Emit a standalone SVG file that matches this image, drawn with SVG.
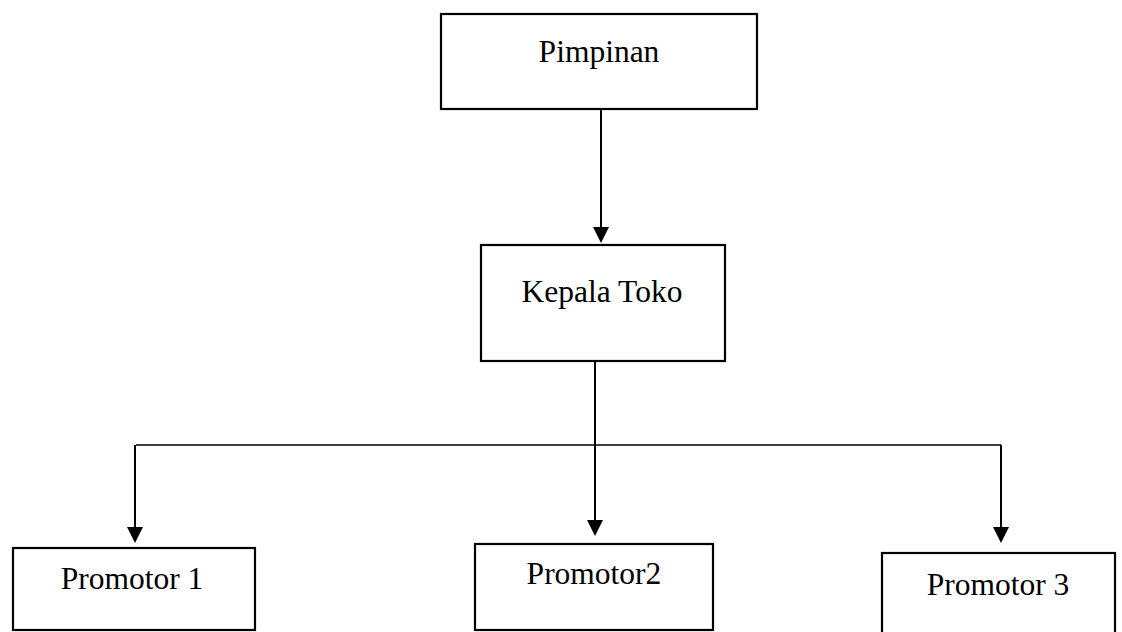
<svg xmlns="http://www.w3.org/2000/svg" width="1122" height="632" viewBox="0 0 1122 632">
<style>
.box{fill:#fff;stroke:#000;stroke-width:2.2}
.lbl{font-family:"Liberation Serif","Times New Roman",serif;font-size:31.5px;fill:#000;text-anchor:middle}
.ln{stroke:#000;stroke-width:2;fill:none}
.thin{stroke:#000;stroke-width:1.5;fill:none}
.ah{fill:#000}
</style>
<rect width="1122" height="632" fill="#fff"/>
<g id="connectors">
<line class="ln" x1="601" y1="109" x2="601" y2="230"/>
<polygon class="ah" points="593,227 609,227 601,243"/>
<line class="ln" x1="595" y1="361" x2="595" y2="522"/>
<polygon class="ah" points="587,520 603,520 595,536"/>
<line class="thin" x1="136" y1="445" x2="1001" y2="445"/>
<line class="ln" x1="135" y1="445" x2="135" y2="530"/>
<polygon class="ah" points="127,527 143,527 135,543"/>
<line class="ln" x1="1001" y1="445" x2="1001" y2="530"/>
<polygon class="ah" points="993,527 1009,527 1001,543"/>
</g>
<g id="pimpinan">
<rect class="box" x="441" y="14" width="316" height="95"/>
<text class="lbl" x="599" y="62">Pimpinan</text>
</g>
<g id="kepala-toko">
<rect class="box" x="481" y="245" width="244" height="116"/>
<text class="lbl" x="602" y="302">Kepala Toko</text>
</g>
<g id="promotor1">
<rect class="box" x="13" y="548" width="242" height="82"/>
<text class="lbl" x="132" y="589">Promotor 1</text>
</g>
<g id="promotor2">
<rect class="box" x="475" y="544" width="238" height="86"/>
<text class="lbl" x="594" y="584">Promotor2</text>
</g>
<g id="promotor3">
<rect class="box" x="882" y="553" width="233" height="85"/>
<text class="lbl" x="998" y="595">Promotor 3</text>
</g>
</svg>
